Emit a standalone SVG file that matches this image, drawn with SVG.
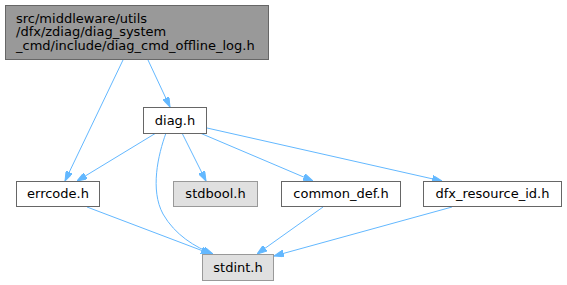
<svg xmlns="http://www.w3.org/2000/svg" width="567" height="285" viewBox="0 0 567 285">
<style>
text{font-family:"DejaVu Sans","Liberation Sans",sans-serif;font-size:13px;fill:#000}
.c{text-anchor:middle}
.n rect{fill:#fff;stroke:#666;stroke-width:1}
.cur rect{fill:#999;stroke:#666}
.sys rect{fill:#e0e0e0;stroke:#999}
.e{fill:none;stroke:#63b8ff;stroke-width:1}
</style>
<defs>
<marker id="a" viewBox="0 0 10 7" refX="10" refY="3.5" markerWidth="10" markerHeight="7" markerUnits="userSpaceOnUse" orient="auto">
<path d="M0,0 L10,3.5 L0,7 z" fill="#63b8ff" stroke="#63b8ff" stroke-width="1"/>
</marker>
</defs>
<g id="edges">
<path class="e" marker-end="url(#a)" d="M123,60 L65,181"/>
<path class="e" marker-end="url(#a)" d="M148,60 L170,107"/>
<path class="e" marker-end="url(#a)" d="M156,133 L77,181"/>
<path class="e" marker-end="url(#a)" d="M166,133 C158,155 150,190 163,214 C175,235 195,247 213,254"/>
<path class="e" marker-end="url(#a)" d="M182,133 L206,181"/>
<path class="e" marker-end="url(#a)" d="M200,133 L313,181"/>
<path class="e" marker-end="url(#a)" d="M207,128 L442,181"/>
<path class="e" marker-end="url(#a)" d="M87,207 L211,254"/>
<path class="e" marker-end="url(#a)" d="M323,207 L257,254"/>
<path class="e" marker-end="url(#a)" d="M452,207 L274,256"/>
</g>
<g id="node1" class="n cur"><rect x="5.5" y="5.5" width="263" height="54"/>
<text x="16" y="22.5">src/middleware/utils</text>
<text x="16" y="36">/dfx/zdiag/diag_system</text>
<text x="16" y="49.5">_cmd/include/diag_cmd_offline_log.h</text></g>
<g id="node2" class="n"><rect x="143.5" y="107.5" width="63" height="26"/><text class="c" x="175" y="124.5">diag.h</text></g>
<g id="node3" class="n"><rect x="16.5" y="181.5" width="83" height="25"/><text class="c" x="58" y="198">errcode.h</text></g>
<g id="node4" class="n sys"><rect x="173.5" y="181.5" width="84" height="25"/><text class="c" x="215.5" y="198">stdbool.h</text></g>
<g id="node5" class="n"><rect x="281.5" y="181.5" width="119" height="25"/><text class="c" x="341" y="198">common_def.h</text></g>
<g id="node6" class="n"><rect x="423.5" y="181.5" width="138" height="25"/><text class="c" x="492.5" y="198">dfx_resource_id.h</text></g>
<g id="node7" class="n sys"><rect x="202.5" y="254.5" width="71" height="26"/><text class="c" x="238" y="271.5">stdint.h</text></g>
</svg>
